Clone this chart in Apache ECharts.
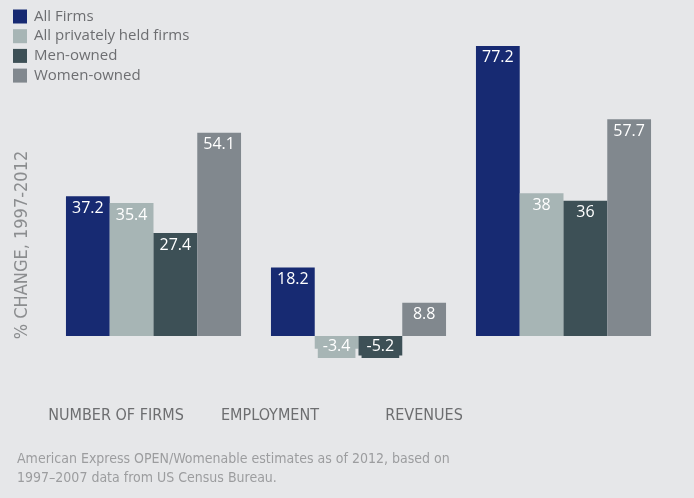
<!DOCTYPE html>
<html>
<head>
<meta charset="utf-8">
<script src="https://cdn.jsdelivr.net/npm/echarts@6/dist/echarts.min.js"></script>
<style>
html,body{margin:0;padding:0;background:#e6e7e9;}
#chart{width:694px;height:498px;}
</style>
</head>
<body>
<div id="chart"></div>
<script>
var categories = ['NUMBER OF FIRMS', 'EMPLOYMENT', 'REVENUES'];
var seriesNames = ['All Firms', 'All privately held firms', 'Men-owned', 'Women-owned'];
var allFirms = [37.2, 18.2, 77.2];
var privatelyHeld = [35.4, -3.4, 38];
var menOwned = [27.4, -5.2, 36];
var womenOwned = [54.1, 8.8, 57.7];
var colors = ['#172a72', '#a7b5b5', '#3d5056', '#81888e'];
var yAxisTitle = '% CHANGE, 1997-2012';
var footnote = 'American Express OPEN/Womenable estimates as of 2012, based on\n1997\u20132007 data from US Census Bureau.';

var narrow = '"Liberation Sans Narrow", "Arial Narrow", "DejaVu Sans Condensed", sans-serif';

function mkSeries(name, vals, idx) {
  return {
    name: name,
    type: 'bar',
    xAxisIndex: 0,
    yAxisIndex: 0,
    barGap: '0%',
    barCategoryGap: '14.6%',
    itemStyle: { color: colors[idx] },
    data: vals.map(function (v) {
      if (v < 0) {
        return {
          value: v,
          label: {
            position: 'insideTop',
            distance: 0,
            backgroundColor: colors[idx],
            padding: [3, 5, 3, 5]
          }
        };
      }
      return { value: v, label: { position: 'insideTop', distance: 4 } };
    }),
    label: {
      show: true,
      color: '#ffffff',
      fontFamily: '"Open Sans", sans-serif',
      fontSize: 16,
      fontWeight: 500
    }
  };
}

var chart = echarts.init(document.getElementById('chart'), null, { renderer: 'canvas' });
chart.setOption({
  backgroundColor: '#e6e7e9',
  animation: false,
  title: {
    text: footnote,
    left: 17,
    top: 450,
    padding: 0,
    textStyle: {
      fontFamily: narrow,
      fontSize: 14,
      lineHeight: 19,
      fontWeight: 'normal',
      color: '#9c9d9f'
    }
  },
  legend: {
    orient: 'vertical',
    left: 13,
    top: 9,
    padding: 0,
    icon: 'rect',
    itemWidth: 14,
    itemHeight: 14,
    itemGap: 4.7,
    data: seriesNames,
    textStyle: {
      fontFamily: '"Open Sans", sans-serif',
      fontSize: 15,
      lineHeight: 14,
      color: '#6d6e71',
      padding: [0, 0, 0, 2]
    }
  },
  grid: [
    { left: 51, width: 615, top: 35.4, height: 338.1 },
    { left: 39, width: 462, top: 35.4, height: 338.1 }
  ],
  xAxis: [
    { type: 'category', gridIndex: 0, data: categories, show: false },
    {
      type: 'category', gridIndex: 1, data: categories,
      axisLine: { show: false }, axisTick: { show: false },
      axisLabel: {
        interval: 0,
        margin: 34,
        fontFamily: narrow,
        fontSize: 16,
        color: '#6d6e70'
      }
    }
  ],
  yAxis: [
    { type: 'value', gridIndex: 0, min: -10, max: 80, show: false, splitLine: { show: false } },
    { type: 'value', gridIndex: 1, min: -10, max: 80, show: false, splitLine: { show: false } }
  ],
  graphic: [
    {
      type: 'text',
      x: 22,
      y: 245,
      rotation: Math.PI / 2,
      style: {
        text: yAxisTitle,
        textAlign: 'center',
        textVerticalAlign: 'middle',
        fontFamily: narrow,
        fontSize: 18,
        fill: '#8b8d8f'
      }
    }
  ],
  series: [
    mkSeries(seriesNames[0], allFirms, 0),
    mkSeries(seriesNames[1], privatelyHeld, 1),
    mkSeries(seriesNames[2], menOwned, 2),
    mkSeries(seriesNames[3], womenOwned, 3)
  ]
});
</script>
</body>
</html>
